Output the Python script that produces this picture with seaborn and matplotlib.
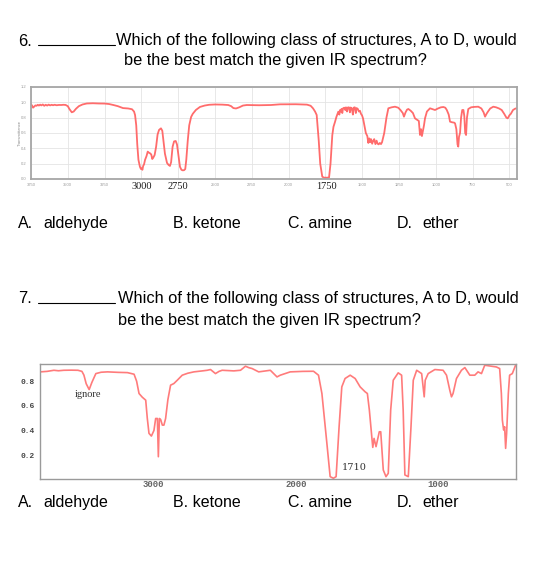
import numpy as np
import pandas as pd
import matplotlib
matplotlib.use("Agg")
import matplotlib.pyplot as plt
from matplotlib.lines import Line2D
from matplotlib.ticker import MultipleLocator, FixedLocator, FuncFormatter
import seaborn as sns

# ---------------- data: spectrum for question 6 ----------------
wn6 = [3750, 3742, 3736, 3728, 3720, 3712, 3704, 3696, 3688, 3680, 3670, 3660, 3650, 3640,
       3630, 3620, 3610, 3600, 3590, 3575, 3560, 3545, 3530, 3515, 3500, 3488, 3473, 3460,
       3445, 3425, 3400, 3371, 3330, 3290, 3250, 3220, 3190, 3160, 3125, 3090, 3064, 3050,
       3043, 3035, 3028, 3020, 3010, 3003, 2998, 2993, 2988, 2982, 2975, 2965, 2957, 2950,
       2941, 2933, 2926, 2919, 2910, 2900, 2890, 2880, 2867, 2858, 2850, 2840, 2826, 2815,
       2806, 2798, 2788, 2778, 2767, 2758, 2748, 2738, 2728, 2719, 2710, 2702, 2695, 2685,
       2675, 2662, 2651, 2630, 2602, 2570, 2540, 2500, 2450, 2410, 2390, 2375, 2357, 2335,
       2310, 2284, 2200, 2120, 2058, 1950, 1875, 1850, 1834, 1820, 1809, 1795, 1785, 1771,
       1760, 1740, 1725, 1715, 1703, 1695, 1684, 1675, 1662, 1655, 1650, 1645, 1640, 1635,
       1630, 1622, 1615, 1610, 1603, 1598, 1590, 1583, 1578, 1570, 1563, 1558, 1550, 1543,
       1538, 1530, 1522, 1515, 1508, 1501, 1494, 1485, 1475, 1465, 1458, 1452, 1446, 1440,
       1432, 1425, 1418, 1410, 1402, 1395, 1388, 1380, 1372, 1365, 1350, 1335, 1322, 1300,
       1277, 1255, 1240, 1231, 1224, 1216, 1205, 1195, 1186, 1170, 1155, 1141, 1125, 1115,
       1107, 1100, 1094, 1088, 1080, 1073, 1060, 1039, 1020, 1005, 985, 965, 948, 935, 925,
       912, 903, 890, 875, 869, 860, 852, 847, 842, 835, 828, 820, 812, 806, 800, 794, 788,
       779, 760, 740, 711, 690, 675, 665, 655, 645, 630, 609, 590, 570, 552, 535, 520, 511,
       500, 490, 475, 460, 450]
tr6 = [0.975, 0.955, 0.930, 0.945, 0.960, 0.955, 0.968, 0.958, 0.970, 0.960, 0.972, 0.955, 0.968, 0.958,
       0.970, 0.960, 0.968, 0.962, 0.968, 0.962, 0.966, 0.965, 0.968, 0.966, 0.950, 0.910, 0.870, 0.880,
       0.915, 0.950, 0.972, 0.985, 0.988, 0.985, 0.984, 0.978, 0.965, 0.950, 0.925, 0.920, 0.910, 0.880,
       0.835, 0.700, 0.450, 0.250, 0.160, 0.130, 0.140, 0.120, 0.170, 0.191, 0.250, 0.300, 0.357, 0.345,
       0.335, 0.320, 0.261, 0.280, 0.313, 0.420, 0.580, 0.640, 0.661, 0.630, 0.500, 0.330, 0.210, 0.183,
       0.170, 0.220, 0.420, 0.490, 0.496, 0.450, 0.300, 0.160, 0.120, 0.113, 0.115, 0.130, 0.250, 0.500,
       0.700, 0.810, 0.850, 0.900, 0.940, 0.958, 0.968, 0.972, 0.970, 0.965, 0.950, 0.925, 0.920, 0.935,
       0.958, 0.965, 0.962, 0.965, 0.974, 0.975, 0.970, 0.955, 0.922, 0.880, 0.835, 0.500, 0.200, 0.030,
       0.018, 0.017, 0.020, 0.200, 0.570, 0.680, 0.748, 0.810, 0.878, 0.840, 0.900, 0.880, 0.915, 0.860,
       0.922, 0.930, 0.900, 0.935, 0.880, 0.932, 0.935, 0.870, 0.932, 0.920, 0.840, 0.930, 0.935, 0.860,
       0.925, 0.915, 0.880, 0.890, 0.850, 0.830, 0.790, 0.700, 0.600, 0.560, 0.470, 0.530, 0.480, 0.520,
       0.460, 0.500, 0.520, 0.455, 0.500, 0.460, 0.452, 0.470, 0.455, 0.480, 0.600, 0.800, 0.922, 0.935,
       0.943, 0.930, 0.900, 0.878, 0.860, 0.813, 0.870, 0.905, 0.913, 0.890, 0.860, 0.791, 0.770, 0.757,
       0.574, 0.650, 0.560, 0.617, 0.700, 0.791, 0.880, 0.922, 0.910, 0.900, 0.920, 0.935, 0.939, 0.930, 0.900,
       0.840, 0.748, 0.740, 0.735, 0.726, 0.650, 0.450, 0.422, 0.550, 0.600, 0.800, 0.900, 0.900, 0.820, 0.600, 0.574, 0.800,
       0.913, 0.935, 0.940, 0.943, 0.920, 0.870, 0.813, 0.850, 0.880, 0.920, 0.943, 0.935, 0.920, 0.900, 0.850, 0.800, 0.791,
       0.830, 0.850, 0.900, 0.918, 0.922]

# ---------------- data: spectrum for question 7 ----------------
wn7 = [3798, 3750, 3702, 3670, 3632, 3580, 3533, 3505, 3491, 3475, 3454, 3435, 3407, 3370, 3325,
       3250, 3185, 3138, 3120, 3103, 3080, 3056, 3045, 3033, 3016, 2998, 2986, 2974, 2967, 2960,
       2951, 2939, 2928, 2916, 2900, 2881, 2858, 2834, 2799, 2760, 2717, 2650, 2623, 2600, 2565,
       2540, 2518, 2436, 2389, 2354, 2330, 2307, 2261, 2179, 2132, 2109, 2039, 1950, 1875, 1840,
       1816, 1781, 1758, 1735, 1716, 1695, 1676, 1653, 1617, 1582, 1547, 1512, 1496, 1482, 1465,
       1458, 1449, 1435, 1412, 1402, 1384, 1365, 1349, 1332, 1314, 1279, 1255, 1244, 1232, 1208,
       1189, 1173, 1149, 1114, 1096, 1089, 1068, 1021, 963, 939, 916, 904, 893, 869, 834, 810,
       775, 740, 717, 693, 670, 588, 565, 553, 546, 537, 530, 523, 516, 504, 495, 476, 453]
tr7 = [0.876, 0.880, 0.889, 0.885, 0.889, 0.890, 0.889, 0.880, 0.850, 0.780, 0.732, 0.790, 0.862, 0.873, 0.876,
       0.872, 0.870, 0.857, 0.800, 0.700, 0.670, 0.646, 0.500, 0.376, 0.354, 0.400, 0.497, 0.497, 0.186, 0.497,
       0.489, 0.443, 0.443, 0.497, 0.650, 0.768, 0.781, 0.808, 0.849, 0.865, 0.876, 0.885, 0.889, 0.895, 0.862,
       0.880, 0.889, 0.884, 0.889, 0.922, 0.910, 0.903, 0.876, 0.889, 0.835, 0.849, 0.876, 0.880, 0.881, 0.849,
       0.700, 0.295, 0.024, 0.011, 0.024, 0.430, 0.754, 0.822, 0.849, 0.822, 0.754, 0.714, 0.700, 0.565, 0.349,
       0.262, 0.335, 0.268, 0.389, 0.389, 0.078, 0.024, 0.051, 0.565, 0.808, 0.868, 0.849, 0.565, 0.038, 0.024,
       0.430, 0.808, 0.889, 0.862, 0.673, 0.808, 0.862, 0.895, 0.889, 0.849, 0.727, 0.673, 0.700, 0.822, 0.889, 0.911,
       0.849, 0.849, 0.876, 0.862, 0.930, 0.916, 0.903, 0.700, 0.484, 0.403, 0.430, 0.254, 0.376, 0.700, 0.849, 0.862, 0.930]

ticks6_x = [3750, 3500, 3250, 3000, 2750, 2500, 2250, 2000, 1750, 1500, 1250, 1000, 750, 500]
ticks6_y = [0.0, 0.2, 0.4, 0.6, 0.8, 1.0, 1.2]
big_labels6 = ["3000", "2750", "1750"]
big_label_pos6 = [3000, 2750, 1740]
ticks7_x = [3000, 2000, 1000]
ticks7_y = [0.2, 0.4, 0.6, 0.8]

q_text1 = "Which of the following class of structures, A to D, would"
q_text2 = "be the best match the given IR spectrum?"
options = ["A.", "aldehyde", "B. ketone", "C. amine", "D.", "ether"]

# ---------------- figure ----------------
sns.set_style("white")
plt.rcParams['font.family'] = ['Liberation Sans', 'DejaVu Sans']

W, H = 560, 567
fig = plt.figure(figsize=(W / 100, H / 100), dpi=100)
fig.patch.set_facecolor("white")


def fx(px):
    return px / W


def fy(py):
    return 1 - py / H


# ----- questions text -----
QFS = 11.8
OFS = 11.5
for num, base1, base2, xw, xb in [("6.", 45.5, 65.5, 116.4, 123.5), ("7.", 303.3, 324.8, 118.0, 118.0)]:
    fig.text(fx(17.9), fy(base1), num, fontsize=QFS, va="baseline", ha="left", color="black")
    fig.add_artist(Line2D([fx(37.6), fx(114.6)], [fy(base1 - 0.5), fy(base1 - 0.5)],
                          color="black", lw=0.8, transform=fig.transFigure))
    fig.text(fx(xw), fy(base1), q_text1, fontsize=QFS, va="baseline", ha="left", color="black")
    fig.text(fx(xb), fy(base2), q_text2, fontsize=QFS, va="baseline", ha="left", color="black")

opt_x = [17.9, 43.0, 173.0, 288.0, 396.7, 422.5]
for base in [227.9, 506.9]:
    for lab, xx in zip(options, opt_x):
        fig.text(fx(xx), fy(base), lab, fontsize=OFS, va="baseline", ha="left", color="black")

# ----- spectrum 1 -----
ax1 = fig.add_axes([fx(31), fy(179), (517 - 31) / W, (179 - 87) / H])
df6 = pd.DataFrame({"wavenumber": wn6, "transmittance": tr6})
sns.lineplot(data=df6, x="wavenumber", y="transmittance", ax=ax1, sort=False,
             estimator=None, color="#ff5c5c", lw=1.3, alpha=0.9)
ax1.set_xlim(3750, 448)
ax1.set_ylim(0, 1.2)
ax1.xaxis.set_major_locator(FixedLocator(ticks6_x))
ax1.yaxis.set_major_locator(FixedLocator(ticks6_y))
hidden6 = {int(l) for l in big_labels6}
ax1.xaxis.set_major_formatter(
    FuncFormatter(lambda v, p: "" if int(round(v)) in hidden6 else f"{int(round(v))}"))
ax1.yaxis.set_major_formatter(FuncFormatter(lambda v, p: f"{v:.1f}"))
ax1.grid(True, color="#e4e4e4", lw=0.6)
ax1.set_axisbelow(True)
for s in ax1.spines.values():
    s.set_color("#a6a6a6")
    s.set_linewidth(1.3)
ax1.tick_params(axis="both", length=1.5, width=0.5, color="#bbbbbb", labelsize=3,
                labelcolor="#999999", pad=1.5)
ax1.set_xlabel("")
ax1.set_ylabel("")
fig.text(fx(20), fy(133), "Transmittance", rotation=90, fontsize=3, color="#888888",
         ha="center", va="center")
for lab, pos in zip(big_labels6, big_label_pos6):
    ax1.annotate(lab, xy=(pos, 0), xycoords=("data", "axes fraction"),
                 xytext=(0, -10), textcoords="offset pixels", ha="center", va="baseline",
                 fontsize=7.5, family=["Liberation Serif", "DejaVu Serif"], color="#1a1a1a")

# ----- spectrum 2 -----
ax2 = fig.add_axes([fx(40), fy(479), (516 - 40) / W, (479 - 364) / H])
df7 = pd.DataFrame({"wavenumber": wn7, "transmittance": tr7})
sns.lineplot(data=df7, x="wavenumber", y="transmittance", ax=ax2, sort=False,
             estimator=None, color="#ff6464", lw=1.2, alpha=0.85)
ax2.set_xlim(3800, 450)
ax2.set_ylim(0.005, 0.94)
ax2.xaxis.set_major_locator(FixedLocator(ticks7_x))
ax2.xaxis.set_minor_locator(MultipleLocator(200))
ax2.yaxis.set_major_locator(FixedLocator(ticks7_y))
ax2.yaxis.set_minor_locator(MultipleLocator(0.05))
ax2.xaxis.set_major_formatter(FuncFormatter(lambda v, p: f"{int(round(v))}"))
ax2.yaxis.set_major_formatter(FuncFormatter(lambda v, p: f"{v:.1f}"))
ax2.grid(False)
for s in ax2.spines.values():
    s.set_color("#9a9a9a")
    s.set_linewidth(1.0)
ax2.tick_params(axis="x", which="major", direction="in", length=3, width=0.6, color="#888888",
                labelsize=6.5, labelcolor="#666666", pad=1.0)
ax2.tick_params(axis="x", which="minor", direction="in", length=2, width=0.5, color="#999999")
ax2.tick_params(axis="y", which="major", direction="out", length=2.5, width=0.6, color="#888888",
                labelsize=5.7, labelcolor="#444444", pad=1.5)
ax2.tick_params(axis="y", which="minor", direction="in", length=1.5, width=0.4, color="#999999")
for t in ax2.get_xticklabels() + ax2.get_yticklabels():
    t.set_family(["Liberation Mono", "DejaVu Sans Mono"])
    t.set_fontweight("bold")
ax2.set_xlabel("")
ax2.set_ylabel("")
ax2.text(3461, 0.692, "ignore", ha="center", va="center", fontsize=7.5,
         family=["Liberation Serif", "DejaVu Serif"], color="#333333")
ax2.text(1589, 0.097, "1710", ha="center", va="center", fontsize=7,
         family=["DejaVu Serif"], color="#333333")

fig.savefig("out.png", dpi=100, facecolor="white")
